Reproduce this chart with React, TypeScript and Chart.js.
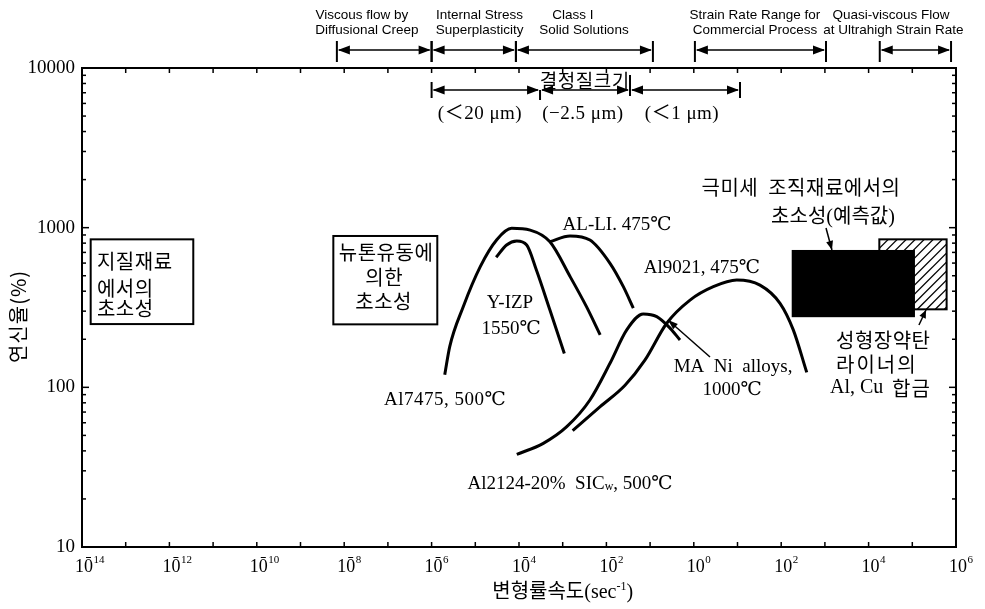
import React, { useEffect, useRef } from "react";
import { Chart, registerables } from "chart.js";

Chart.register(...registerables);

// ---------- axis ticks ----------
const xTickValues = [1e-14, 1e-13, 1e-12, 1e-11, 1e-10, 1e-9, 1e-8, 1e-7, 1e-6, 1e-5, 1e-4, 1e-3, 1e-2, 1e-1, 1, 10, 100, 1e3, 1e4, 1e5, 1e6];
const xLabelValues = [1e-14, 1e-12, 1e-10, 1e-8, 1e-6, 1e-4, 1e-2, 1, 1e2, 1e4, 1e6];
const xLabelExponents = [-14, -12, -10, -8, -6, -4, -2, 0, 2, 4, 6];
const yTickValues = [10, 100, 1000, 10000];
const yMinorTickValues = [20, 30, 40, 50, 60, 70, 80, 90, 200, 300, 400, 500, 600, 700, 800, 900, 2000, 3000, 4000, 5000, 6000, 7000, 8000, 9000];

// ---------- curves (strain rate s^-1, elongation %) ----------
const al7475X = [2e-6, 2.6e-6, 5.3e-6, 1.3e-5, 3.1e-5, 6.8e-5, 1.8e-4, 5.1e-4, 1.5e-3, 3.5e-3, 7.2e-3];
const al7475Y = [120, 180, 320, 570, 840, 990, 965, 815, 490, 320, 213];
const yizpX = [3e-5, 5.2e-5, 8.9e-5, 1.5e-4, 2.5e-4, 5.1e-4, 1.09e-3];
const yizpY = [652, 779, 825, 779, 543, 305, 163];
const alLiX = [5.1e-4, 1.47e-3, 4.2e-3, 1.21e-2, 2.44e-2, 4.13e-2];
const alLiY = [817, 887, 837, 598, 427, 313];
const al2124X = [8.9e-5, 3.6e-4, 1.24e-3, 4.2e-3, 1.21e-2, 2.92e-2, 7e-2, 0.142, 0.285, 0.483];
const al2124Y = [38, 44.6, 56.7, 83.3, 141.5, 229, 288, 277, 235, 198];
const al9021X = [1.69e-3, 7.2e-3, 2.67e-2, 7.6e-2, 0.24, 0.82, 2.8, 9.6, 32.7, 94, 189, 384];
const al9021Y = [53.5, 75.6, 103, 148, 252, 352, 427, 470, 437, 336, 229, 124];

// ---------- regions ----------
const predictedBoxX = [174, 1.15e5];
const predictedBoxY = [275, 725];
const linerBoxX = [1.76e4, 6.1e5];
const linerBoxY = [308, 845];
const geoBoxX = [1.58e-14, 3.52e-12];
const geoBoxY = [249, 845];
const newtonBoxX = [5.64e-9, 1.35e-6];
const newtonBoxY = [248, 887];

// ---------- process ranges (top) ----------
const processNames = [
  ["Viscous flow by", "Diffusional Creep"],
  ["Internal Stress", "Superplasticity"],
  ["Class I", "Solid Solutions"],
  ["Strain Rate Range for", "Commercial Process"],
  ["Quasi-viscous Flow", "at Ultrahigh Strain Rate"],
];
const processFrom = [6.8e-9, 1e-6, 8.5e-5, 1.06, 1.8e4];
const processTo = [1e-6, 8.5e-5, 0.116, 1060, 7.7e5];
const processLabelX = [[2.55e-8, 3.3e-8], [1.25e-5, 1.25e-5], [1.72e-3, 3.07e-3], [25, 25], [3.26e4, 3.7e4]];

// ---------- grain size ranges ----------
const grainNames = ["(＜20 μm)", "(−2.5 μm)", "(＜1 μm)"];
const grainFrom = [1e-6, 3.03e-4, 3.47e-2];
const grainTo = [3.03e-4, 3.47e-2, 11.4];
const grainLabelX = [1.28e-5, 2.9e-3, 0.537];

const SERIF = "'Liberation Serif', 'DejaVu Serif', 'Noto Sans CJK KR', serif";
const KR = "'Noto Sans CJK KR', sans-serif";
const SANS = "'Liberation Sans', Arial, sans-serif";

function toPoints(xs: number[], ys: number[]) {
  return xs.map((x, i) => ({ x, y: ys[i] }));
}

function arrowHead(ctx: CanvasRenderingContext2D, tx: number, ty: number, fx: number, fy: number, len = 11, half = 4) {
  const a = Math.atan2(ty - fy, tx - fx);
  const c = Math.cos(a), s = Math.sin(a);
  ctx.beginPath();
  ctx.moveTo(tx, ty);
  ctx.lineTo(tx - len * c + half * s, ty - len * s - half * c);
  ctx.lineTo(tx - len * c - half * s, ty - len * s + half * c);
  ctx.closePath();
  ctx.fill();
}

function line(ctx: CanvasRenderingContext2D, x1: number, y1: number, x2: number, y2: number) {
  ctx.beginPath();
  ctx.moveTo(x1, y1);
  ctx.lineTo(x2, y2);
  ctx.stroke();
}

function text(ctx: CanvasRenderingContext2D, s: string, x: number, y: number, font: string, align: CanvasTextAlign = "center", spacing = 0) {
  ctx.font = font;
  ctx.textAlign = align;
  ctx.textBaseline = "middle";
  (ctx as any).letterSpacing = spacing + "px";
  ctx.fillText(s, x, y);
  (ctx as any).letterSpacing = "0px";
}

type Part = { t: string; f: string; dy?: number };
function rich(ctx: CanvasRenderingContext2D, parts: Part[], cx: number, y: number) {
  ctx.textBaseline = "alphabetic";
  ctx.textAlign = "left";
  let w = 0;
  for (const p of parts) { ctx.font = p.f; w += ctx.measureText(p.t).width; }
  let x = cx - w / 2;
  for (const p of parts) {
    ctx.font = p.f;
    ctx.fillText(p.t, x, y + (p.dy || 0));
    x += ctx.measureText(p.t).width;
  }
}

const decorPlugin = {
  id: "decor",
  afterDatasetsDraw(chart: any) {
    const ctx: CanvasRenderingContext2D = chart.ctx;
    const xs = chart.scales.x, ys = chart.scales.y;
    const X = (v: number) => xs.getPixelForValue(v);
    const Y = (v: number) => ys.getPixelForValue(v);
    const { left, right, top, bottom } = chart.chartArea;
    ctx.save();
    ctx.fillStyle = "#000";
    ctx.strokeStyle = "#000";

    // frame
    ctx.lineWidth = 2;
    ctx.strokeRect(left, top, right - left, bottom - top);

    // x ticks (inward, top & bottom)
    ctx.lineWidth = 1.5;
    for (const v of xTickValues) {
      const p = X(v);
      line(ctx, p, bottom, p, bottom - 5);
      line(ctx, p, top, p, top + 5);
    }
    // y ticks
    for (const v of yTickValues) {
      const p = Y(v);
      line(ctx, left, p, left + 7, p);
      line(ctx, right, p, right - 7, p);
    }
    for (const v of yMinorTickValues) {
      const p = Y(v);
      line(ctx, left, p, left + 4, p);
      line(ctx, right, p, right - 4, p);
    }

    // x tick labels 10^n
    xLabelValues.forEach((v, i) => {
      const p = X(v);
      const e = xLabelExponents[i];
      ctx.textBaseline = "alphabetic";
      ctx.font = "18px " + SERIF;
      ctx.textAlign = "right";
      ctx.fillText("10", p + 11, 572);
      ctx.font = "11px " + SERIF;
      ctx.textAlign = "left";
      ctx.fillText(String(Math.abs(e)), p + 11.5, 563);
      if (e < 0) {
        ctx.lineWidth = 1;
        line(ctx, p + 4, 557.5, p + 9, 557.5);
      }
    });

    // axis titles
    rich(ctx, [
      { t: "변형률속도", f: "20px " + KR },
      { t: "(sec", f: "20px " + SERIF },
      { t: "-1", f: "12px " + SERIF, dy: -8 },
      { t: ")", f: "20px " + SERIF },
    ], X(1e-3), bottom + 51);
    ctx.save();
    ctx.translate(18, (top + bottom) / 2 + 9);
    ctx.rotate(-Math.PI / 2);
    text(ctx, "연신율(%)", 0, 0, "20px " + KR, "center", 1);
    ctx.restore();

    // curves labels
    const lf = "19px " + SERIF;
    text(ctx, "Al7475, 500℃", X(2.03e-6), Y(83.3), lf, "center", 0.5);
    text(ctx, "Y-IZP", X(6.2e-5), Y(337), lf);
    text(ctx, "1550℃", X(6.6e-5), Y(232), lf);
    text(ctx, "AL-LI. 475℃", X(1.75e-2), Y(1039), lf);
    text(ctx, "Al9021, 475℃", X(1.54), Y(559), lf);
    text(ctx, "MA  Ni  alloys,", X(7.9), Y(134), lf);
    text(ctx, "1000℃", X(7.5), Y(96.2), lf);
    rich(ctx, [
      { t: "Al2124-20%  SIC", f: lf },
      { t: "w", f: "12px " + SERIF, dy: 1 },
      { t: ", 500℃", f: lf },
    ], X(1.47e-3), Y(25.5) + 7);

    // MA Ni arrow
    ctx.lineWidth = 1.5;
    line(ctx, X(2.35), Y(155), X(0.257), Y(264));
    arrowHead(ctx, X(0.257), Y(264), X(2.35), Y(155), 10, 3.5);

    // liner box (hatched)
    const lx1 = X(linerBoxX[0]), lx2 = X(linerBoxX[1]);
    const ly1 = Y(linerBoxY[1]), ly2 = Y(linerBoxY[0]);
    ctx.save();
    ctx.beginPath();
    ctx.rect(lx1, ly1, lx2 - lx1, ly2 - ly1);
    ctx.clip();
    ctx.lineWidth = 1.3;
    for (let k = lx1 - (ly2 - ly1); k < lx2 + 10; k += 9) {
      line(ctx, k, ly2, k + (ly2 - ly1), ly1);
    }
    ctx.restore();
    ctx.lineWidth = 2;
    ctx.strokeRect(lx1, ly1, lx2 - lx1, ly2 - ly1);

    // predicted black box
    const bx1 = X(predictedBoxX[0]), bx2 = X(predictedBoxX[1]);
    const by1 = Y(predictedBoxY[1]), by2 = Y(predictedBoxY[0]);
    ctx.fillRect(bx1, by1, bx2 - bx1, by2 - by1);

    const kf = "20px " + KR;
    text(ctx, "극미세  조직재료에서의", X(284), Y(1798), kf, "center", 0.5);
    rich(ctx, [
      { t: "초소성", f: kf },
      { t: "(", f: "20px " + SERIF },
      { t: "예측값", f: kf },
      { t: ")", f: "20px " + SERIF },
    ], X(1531), Y(1183) + 7);
    ctx.lineWidth = 1.5;
    line(ctx, X(1060), Y(995), X(1450), Y(725));
    arrowHead(ctx, X(1450), Y(725), X(1060), Y(995), 9, 3.5);

    text(ctx, "성형장약탄", X(1795), Y(198), kf, "left", 0.5);
    text(ctx, "라이너의", X(1795), Y(140), kf, "left", 2);
    ctx.font = "20px " + SERIF;
    ctx.textAlign = "left";
    ctx.textBaseline = "middle";
    ctx.fillText("Al, Cu", X(1309), Y(99));
    text(ctx, "합금", X(1309) + 62, Y(99), kf, "left", 1);
    line(ctx, X(1.42e5), Y(245.7), X(2.06e5), Y(305));
    arrowHead(ctx, X(2.06e5), Y(305), X(1.42e5), Y(245.7), 8, 3.5);

    // boxed Korean notes
    ctx.lineWidth = 2;
    const gx1 = X(geoBoxX[0]), gx2 = X(geoBoxX[1]), gy1 = Y(geoBoxY[1]), gy2 = Y(geoBoxY[0]);
    ctx.strokeRect(gx1, gy1, gx2 - gx1, gy2 - gy1);
    const bf = "20px " + KR;
    text(ctx, "지질재료", X(2.2e-14), Y(618), bf, "left", 0.5);
    text(ctx, "에서의", X(2.2e-14), Y(419), bf, "left", 0.5);
    text(ctx, "초소성", X(2.2e-14), Y(314), bf, "left", 0.5);
    const nx1 = X(newtonBoxX[0]), nx2 = X(newtonBoxX[1]), ny1 = Y(newtonBoxY[1]), ny2 = Y(newtonBoxY[0]);
    ctx.strokeRect(nx1, ny1, nx2 - nx1, ny2 - ny1);
    text(ctx, "뉴톤유동에", X(9.06e-8), Y(704), bf, "center", 0.5);
    text(ctx, "의한", X(8.2e-8), Y(491), bf, "center", 0.5);
    text(ctx, "초소성", X(8.0e-8), Y(347), bf, "center", 0.5);

    // top process ranges
    ctx.lineWidth = 1.5;
    const ay = top - 18;
    processNames.forEach((names, i) => {
      const a = X(processFrom[i]), b = X(processTo[i]);
      line(ctx, a + 2, ay, b - 2, ay);
      arrowHead(ctx, a + 1, ay, b, ay, 12, 4.5);
      arrowHead(ctx, b - 1, ay, a, ay, 12, 4.5);
      ctx.lineWidth = 2;
      line(ctx, a, top - 27, a, top - 6);
      line(ctx, b, top - 27, b, top - 6);
      ctx.lineWidth = 1.5;
      text(ctx, names[0], X(processLabelX[i][0]), top - 53, "13.5px " + SANS);
      text(ctx, names[1], X(processLabelX[i][1]), top - 38, "13.5px " + SANS);
    });

    // grain size ranges
    const gyA = top + 22;
    grainNames.forEach((n, i) => {
      const a = X(grainFrom[i]), b = X(grainTo[i]);
      line(ctx, a + 2, gyA, b - 2, gyA);
      arrowHead(ctx, a + 1, gyA, b, gyA, 12, 4.5);
      arrowHead(ctx, b - 1, gyA, a, gyA, 12, 4.5);
      text(ctx, n, X(grainLabelX[i]), top + 46, "19px " + SERIF, "center", 0.5);
    });
    ctx.lineWidth = 2;
    line(ctx, X(grainFrom[0]), top + 14, X(grainFrom[0]), top + 30);
    line(ctx, X(grainTo[0]), top + 22, X(grainTo[0]), top + 32);
    line(ctx, X(grainTo[1]), top + 7, X(grainTo[1]), top + 28);
    line(ctx, X(grainTo[2]), top + 14, X(grainTo[2]), top + 30);
    text(ctx, "결정질크기", X(3.2e-3), top + 13, "19px " + KR, "center", 0.5);

    ctx.restore();
  },
};

export default function App() {
  const ref = useRef<HTMLCanvasElement | null>(null);
  useEffect(() => {
    if (!ref.current) return;
    const mk = (label: string, xs: number[], ys: number[]) => ({
      label,
      data: toPoints(xs, ys),
      showLine: true,
      borderColor: "#000",
      backgroundColor: "#000",
      borderWidth: 3,
      pointRadius: 0,
      fill: false,
      tension: 0.4,
      cubicInterpolationMode: "monotone" as const,
    });
    const chart = new Chart(ref.current, {
      type: "scatter",
      data: {
        datasets: [
          mk("Al7475, 500℃", al7475X, al7475Y),
          mk("Y-IZP 1550℃", yizpX, yizpY),
          mk("AL-LI 475℃", alLiX, alLiY),
          mk("Al2124-20% SiCw, 500℃", al2124X, al2124Y),
          mk("Al9021, 475℃", al9021X, al9021Y),
        ],
      },
      options: {
        animation: false,
        responsive: false,
        maintainAspectRatio: false,
        devicePixelRatio: 1,
        layout: { padding: { top: 68, right: 29, left: 0, bottom: 0 } },
        plugins: { legend: { display: false }, tooltip: { enabled: false }, title: { display: false } },
        scales: {
          x: {
            type: "logarithmic",
            min: 1e-14,
            max: 1e6,
            grid: { display: false, drawTicks: false },
            border: { display: false },
            ticks: { display: false },
            afterBuildTicks: (s: any) => { s.ticks = xTickValues.map((v) => ({ value: v })); },
            afterFit: (s: any) => { s.height = 62; },
          },
          y: {
            type: "logarithmic",
            min: 10,
            max: 10000,
            grid: { display: false, drawTicks: false },
            border: { display: false },
            ticks: {
              color: "#000",
              padding: 7,
              font: { family: "'Liberation Serif', 'DejaVu Serif', serif", size: 19 },
              callback: (v: any) => String(v),
            },
            afterBuildTicks: (s: any) => { s.ticks = yTickValues.map((v) => ({ value: v })); },
            afterFit: (s: any) => { s.width = 82; },
          },
        },
      },
      plugins: [decorPlugin],
    });
    return () => chart.destroy();
  }, []);
  return (
    <div style={{ position: "absolute", left: 0, top: 0, width: 985, height: 609, background: "#fff" }}>
      <canvas ref={ref} width={985} height={609} style={{ width: 985, height: 609 }} />
    </div>
  );
}
